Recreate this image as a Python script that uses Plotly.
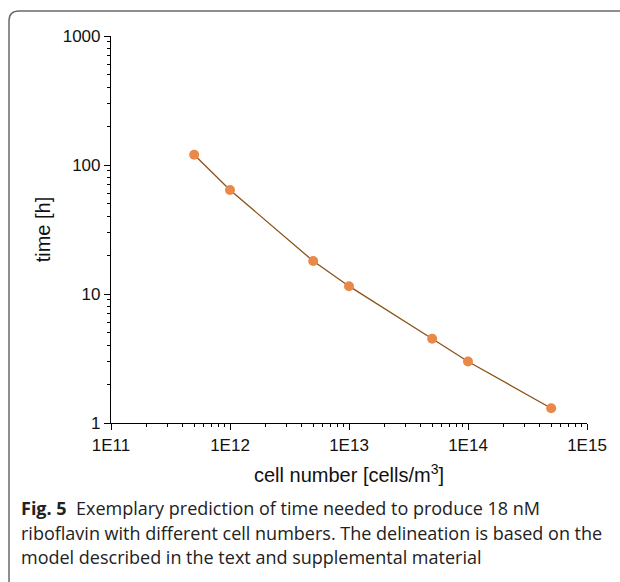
import plotly.graph_objects as go

cells = [5e11, 1e12, 5e12, 1e13, 5e13, 1e14, 5e14]
time_h = [120, 64, 18, 11.5, 4.5, 3.0, 1.3]
x_ticks = [1e11, 1e12, 1e13, 1e14, 1e15]
x_labels = ["1E11", "1E12", "1E13", "1E14", "1E15"]
y_ticks = [1, 10, 100, 1000]
y_labels = ["1", "10", "100", "1000"]
minor_steps = [2, 3, 4, 5, 6, 7, 8, 9]
caption_lines = [
    "<b>Fig. 5</b>  Exemplary prediction of time needed to produce 18 nM",
    "riboflavin with different cell numbers. The delineation is based on the",
    "model described in the text and supplemental material",
]

x_minor = [m * d for d in x_ticks[:-1] for m in minor_steps]
y_minor = [m * d for d in y_ticks[:-1] for m in minor_steps]

W, H = 620, 582
ML, MR, MT, MB = 111, 33, 36, 159
PW, PH = W - ML - MR, H - MT - MB

def px(x):
    return (x - ML) / PW

def py(y):
    return (H - MB - y) / PH

fig = go.Figure()
fig.add_trace(go.Scatter(
    x=cells, y=time_h, mode="lines+markers",
    line=dict(color="#8B5218", width=1.3),
    marker=dict(color="#E8894A", size=10, line=dict(width=0)),
    showlegend=False,
))

axis_font = dict(family="Liberation Sans, Arial", size=17, color="#111")
title_font = dict(family="Liberation Sans, Arial", size=20, color="#111")
fig.update_xaxes(
    type="log", range=[11, 15], tickmode="array", tickvals=x_ticks, ticktext=x_labels,
    showline=True, linecolor="black", linewidth=1.2,
    ticks="outside", ticklen=6, tickcolor="black", tickwidth=1.2,
    minor=dict(tickmode="array", tickvals=x_minor, ticks="outside", ticklen=3,
               tickcolor="black", tickwidth=1, showgrid=False),
    showgrid=False, zeroline=False, tickfont=axis_font,
    title=dict(text="cell number [cells/m<sup>3</sup>]", font=title_font, standoff=14),
)
fig.update_yaxes(
    type="log", range=[0, 3], tickmode="array", tickvals=y_ticks, ticktext=y_labels,
    showline=True, linecolor="black", linewidth=1.2,
    ticks="outside", ticklen=6, tickcolor="black", tickwidth=1.2,
    minor=dict(tickmode="array", tickvals=y_minor, ticks="outside", ticklen=3,
               tickcolor="black", tickwidth=1, showgrid=False),
    showgrid=False, zeroline=False, tickfont=axis_font,
    title=dict(text="time [h]", font=title_font, standoff=6),
)

# rounded frame around the figure panel
r = 10
path = (f"M {px(9)} {py(600)} L {px(9)} {py(11 + r)} "
        f"Q {px(9)} {py(11)} {px(9 + r)} {py(11)} L {px(640)} {py(11)}")
fig.add_shape(type="path", path=path, xref="paper", yref="paper",
              line=dict(color="#6a6a6a", width=1.5))

for txt, yc in zip(caption_lines, [508, 533, 557]):
    fig.add_annotation(
        text=txt, xref="paper", yref="paper", x=px(19), y=py(yc),
        xanchor="left", yanchor="middle", showarrow=False, align="left",
        font=dict(family="Open Sans", size=18, color="#222"),
    )

fig.update_layout(
    width=W, height=H, margin=dict(l=ML, r=MR, t=MT, b=MB),
    paper_bgcolor="white", plot_bgcolor="white",
)
fig.write_html("out.html")
